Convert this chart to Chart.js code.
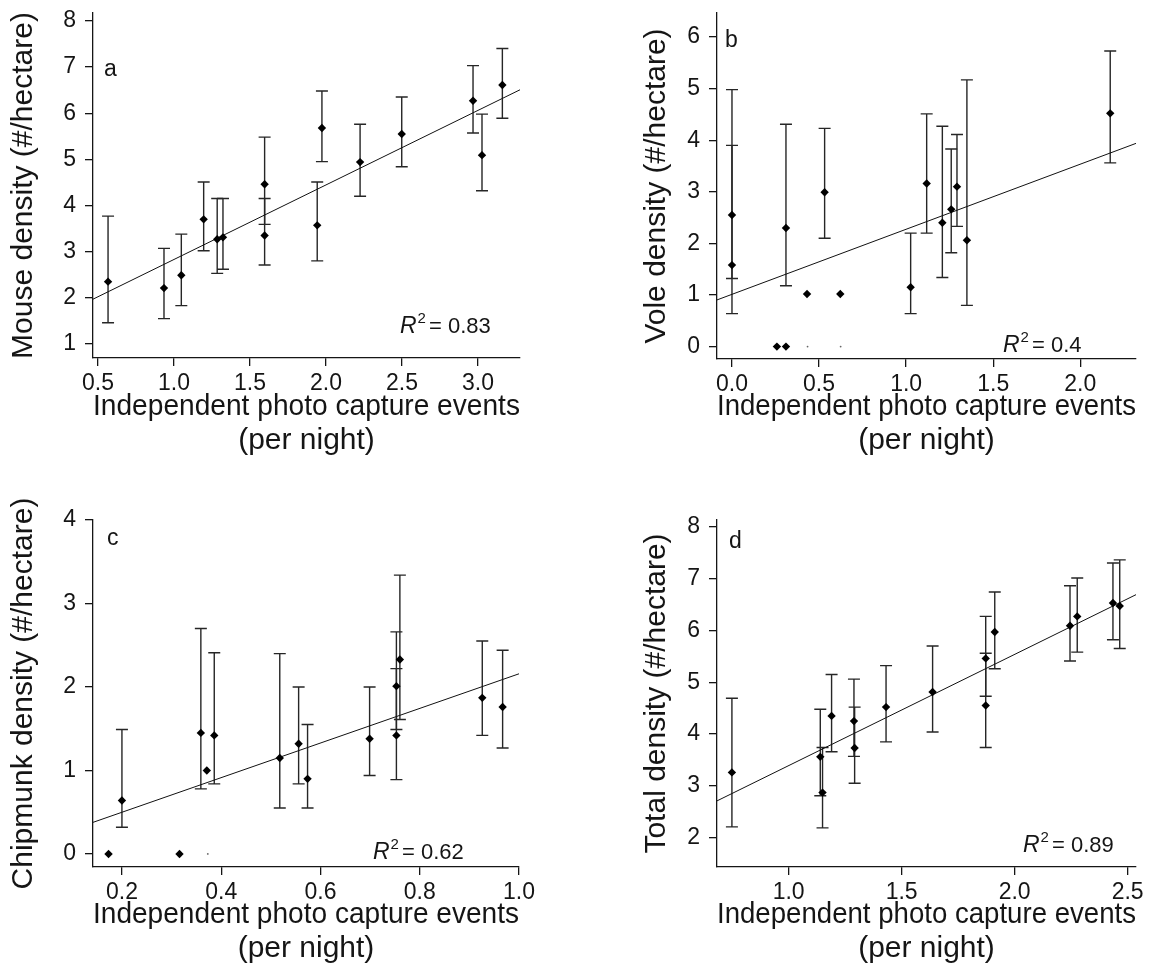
<!DOCTYPE html>
<html>
<head>
<meta charset="utf-8">
<title>Density vs photo capture events</title>
<script src="https://cdn.jsdelivr.net/npm/chart.js@4.4.1/dist/chart.umd.min.js"></script>
<style>
  body { margin: 0; background: #fff; }
  #wrap { position: relative; width: 1172px; height: 972px; }
  .panel { position: absolute; width: 586px; height: 486px; }
</style>
</head>
<body>
<div id="wrap">
  <div class="panel" style="left:0;top:0"><canvas id="chartA" width="586" height="486"></canvas></div>
  <div class="panel" style="left:586px;top:0"><canvas id="chartB" width="586" height="486"></canvas></div>
  <div class="panel" style="left:0;top:486px"><canvas id="chartC" width="586" height="486"></canvas></div>
  <div class="panel" style="left:586px;top:486px"><canvas id="chartD" width="586" height="486"></canvas></div>
</div>
<script>
// a - mouse
const mouseX  = [0.566, 0.934, 1.048, 1.195, 1.284, 1.322, 1.596, 1.596, 1.942, 1.973, 2.224, 2.498, 2.967, 3.026, 3.160];
const mouseY  = [2.35, 2.21, 2.49, 3.70, 3.27, 3.31, 4.46, 3.35, 3.57, 5.68, 4.94, 5.55, 6.27, 5.09, 6.61];
const mouseLo = [1.46, 1.55, 1.83, 3.02, 2.53, 2.62, 3.59, 2.71, 2.80, 4.95, 4.20, 4.84, 5.57, 4.32, 5.89];
const mouseHi = [3.77, 3.07, 3.38, 4.51, 4.15, 4.15, 5.48, 4.15, 4.51, 6.48, 5.76, 6.35, 7.03, 5.98, 7.40];
const mouseFit = [1.216, 1.615];   // intercept, slope
const mouseR2 = "0.83";
const mouseXTicks = [0.5, 1.0, 1.5, 2.0, 2.5, 3.0];
const mouseYTicks = [1, 2, 3, 4, 5, 6, 7, 8];
const mouseXLim = [0.467, 3.276];
const mouseYLim = [0.696, 8.17];

// b - vole
const voleX  = [0.0, 0.0, 0.258, 0.31, 0.31, 0.431, 0.532, 0.622, 1.026, 1.118, 1.208, 1.259, 1.292, 1.349, 2.172];
const voleY  = [2.55, 1.58, 0, 0, 2.30, 1.02, 2.99, 1.02, 1.15, 3.16, 2.40, 2.66, 3.10, 2.06, 4.52];
const voleLo = [1.32, 0.64, null, null, 1.18, null, 2.10, null, 0.64, 2.20, 1.34, 1.82, 2.33, 0.80, 3.56];
const voleHi = [4.98, 3.90, null, null, 4.31, null, 4.23, null, 2.20, 4.51, 4.27, 3.83, 4.11, 5.17, 5.73];
const voleTinyX = [0.434, 0.624];
const voleTinyY = [0, 0];
const voleFit = [1.013, 1.261];
const voleR2 = "0.4";
const voleXTicks = [0.0, 0.5, 1.0, 1.5, 2.0];
const voleYTicks = [0, 1, 2, 3, 4, 5, 6];
const voleXLim = [-0.086, 2.32];
const voleYLim = [-0.24, 6.465];

// c - chipmunk
const chipX  = [0.200, 0.173, 0.316, 0.359, 0.371, 0.386, 0.518, 0.556, 0.574, 0.699, 0.753, 0.753, 0.760, 0.926, 0.967];
const chipY  = [0.64, 0, 0, 1.45, 1.00, 1.42, 1.15, 1.32, 0.90, 1.38, 2.01, 1.42, 2.33, 1.87, 1.76];
const chipLo = [0.32, null, null, 0.78, null, 0.84, 0.55, 0.84, 0.55, 0.94, 1.49, 0.89, 1.61, 1.42, 1.27];
const chipHi = [1.49, null, null, 2.70, null, 2.41, 2.40, 2.00, 1.55, 2.00, 2.66, 2.22, 3.34, 2.55, 2.44];
const chipTinyX = [0.373];
const chipTinyY = [0];
const chipFit = [0.085, 2.073];
const chipR2 = "0.62";
const chipXTicks = [0.2, 0.4, 0.6, 0.8, 1.0];
const chipYTicks = [0, 1, 2, 3, 4];
const chipXLim = [0.1417, 1.0];
const chipYLim = [-0.156, 4.0];

// d - total
const totX  = [0.749, 1.140, 1.150, 1.190, 1.289, 1.292, 1.431, 1.637, 1.872, 1.872, 1.912, 2.245, 2.277, 2.435, 2.465];
const totY  = [3.26, 3.56, 2.87, 4.35, 4.25, 3.73, 4.52, 4.81, 5.46, 4.55, 5.97, 6.09, 6.27, 6.53, 6.47];
const totLo = [2.21, 2.81, 2.19, 3.66, 3.57, 3.05, 3.85, 4.04, 4.73, 3.74, 5.26, 5.41, 5.58, 5.82, 5.65];
const totHi = [4.69, 4.48, 3.74, 5.15, 5.06, 4.52, 5.32, 5.70, 6.27, 5.56, 6.74, 6.86, 7.01, 7.30, 7.36];
const totFit = [1.245, 2.146];
const totR2 = "0.89";
const totXTicks = [1.0, 1.5, 2.0, 2.5];
const totYTicks = [2, 3, 4, 5, 6, 7, 8];
const totXLim = [0.683, 2.537];
const totYLim = [1.435, 8.13];

const xTitle = ["Independent photo capture events", "(per night)"];
const FONT = "'Liberation Sans', Arial, sans-serif";
const INK = "#151515";

const panels = [
  { id: "chartA", letter: "a", yTitle: "Mouse density (#/hectare)",
    x: mouseX, y: mouseY, lo: mouseLo, hi: mouseHi, tinyX: [], tinyY: [], fit: mouseFit, r2: mouseR2,
    xTicks: mouseXTicks, yTicks: mouseYTicks, xLim: mouseXLim, yLim: mouseYLim,
    area: { left: 93, top: 13, right: 520, bottom: 358 }, letterAt: [104, 76], r2At: [400, 333], xPad: 28, yPad: 6 },
  { id: "chartB", letter: "b", yTitle: "Vole density (#/hectare)",
    x: voleX, y: voleY, lo: voleLo, hi: voleHi, tinyX: voleTinyX, tinyY: voleTinyY, fit: voleFit, r2: voleR2,
    xTicks: voleXTicks, yTicks: voleYTicks, xLim: voleXLim, yLim: voleYLim,
    area: { left: 131, top: 13, right: 550, bottom: 359 }, letterAt: [139, 47], r2At: [417, 352], xPad: 28, yPad: 53 },
  { id: "chartC", letter: "c", yTitle: "Chipmunk density (#/hectare)",
    x: chipX, y: chipY, lo: chipLo, hi: chipHi, tinyX: chipTinyX, tinyY: chipTinyY, fit: chipFit, r2: chipR2,
    xTicks: chipXTicks, yTicks: chipYTicks, xLim: chipXLim, yLim: chipYLim,
    area: { left: 93, top: 34, right: 519, bottom: 381 }, letterAt: [107, 59], r2At: [373, 373], xPad: 6, yPad: 6 },
  { id: "chartD", letter: "d", yTitle: "Total density (#/hectare)",
    x: totX, y: totY, lo: totLo, hi: totHi, tinyX: [], tinyY: [], fit: totFit, r2: totR2,
    xTicks: totXTicks, yTicks: totYTicks, xLim: totXLim, yLim: totYLim,
    area: { left: 131, top: 34, right: 550, bottom: 381 }, letterAt: [143, 62], r2At: [437, 366], xPad: 6, yPad: 53 },
];

// error bars + panel letter + R^2 label
function decor(p) {
  return {
    id: "decor_" + p.id,
    beforeDatasetsDraw(chart) {
      const ctx = chart.ctx, xs = chart.scales.x, ys = chart.scales.y;
      ctx.save();
      ctx.strokeStyle = "#262626";
      ctx.lineWidth = 1.4;
      p.lo.forEach((lo, i) => {
        if (lo === null) return;
        const px = xs.getPixelForValue(p.x[i]);
        const top = ys.getPixelForValue(p.hi[i]);
        const bot = ys.getPixelForValue(lo);
        ctx.beginPath();
        ctx.moveTo(px, top); ctx.lineTo(px, bot);
        ctx.moveTo(px - 6, top); ctx.lineTo(px + 6, top);
        ctx.moveTo(px - 6, bot); ctx.lineTo(px + 6, bot);
        ctx.stroke();
      });
      ctx.restore();
    },
    afterDraw(chart) {
      const ctx = chart.ctx;
      ctx.save();
      ctx.fillStyle = INK;
      ctx.textBaseline = "alphabetic";
      ctx.textAlign = "left";
      ctx.font = "23px " + FONT;
      ctx.fillText(p.letter, p.letterAt[0], p.letterAt[1]);

      let [x, y] = p.r2At;
      ctx.font = "italic 23px " + FONT;
      ctx.fillText("R", x, y);
      x += ctx.measureText("R").width + 1;
      ctx.font = "15px " + FONT;
      ctx.fillText("2", x, y - 10);
      x += ctx.measureText("2").width + 3;
      ctx.font = "22px " + FONT;
      ctx.fillText("= " + p.r2, x, y);
      ctx.restore();
    }
  };
}

panels.forEach((p) => {
  const a = p.area;
  const pts = p.x.map((v, i) => ({ x: v, y: p.y[i] }));
  const tiny = p.tinyX.map((v, i) => ({ x: v, y: p.tinyY[i] }));
  const line = p.xLim.map((v) => ({ x: v, y: p.fit[0] + p.fit[1] * v }));

  const axisCommon = {
    grid: { drawOnChartArea: false, drawTicks: true, tickLength: 8, color: INK, lineWidth: 1.3 },
    border: { display: true, color: INK, width: 1.3 },
  };

  new Chart(document.getElementById(p.id).getContext("2d"), {
    type: "scatter",
    data: {
      datasets: [
        { data: line, type: "line", borderColor: "#111", borderWidth: 1, pointRadius: 0, fill: false, order: 3 },
        { data: tiny, pointStyle: "circle", pointRadius: 0.9, backgroundColor: "#666", borderWidth: 0, order: 2 },
        { data: pts, pointStyle: "rectRot", pointRadius: 4.2, backgroundColor: "#000", borderColor: "#000", borderWidth: 0, order: 1 },
      ],
    },
    options: {
      responsive: false,
      animation: false,
      layout: { padding: { left: 0, top: a.top, right: 586 - a.right, bottom: 0 } },
      plugins: { legend: { display: false }, tooltip: { enabled: false } },
      scales: {
        x: {
          ...axisCommon,
          type: "linear",
          min: p.xLim[0],
          max: p.xLim[1],
          afterBuildTicks: (s) => { s.ticks = p.xTicks.map((v) => ({ value: v })); },
          afterFit: (s) => { s.height = 486 - a.bottom; s.paddingLeft = 0; s.paddingRight = 0; },
          ticks: { font: { family: FONT, size: 23 }, color: INK, padding: 4, maxRotation: 0,
                   callback: (v) => Number(v).toFixed(1) },
          title: { display: true, text: xTitle, color: INK, font: { family: FONT, size: 30, lineHeight: 1.15 },
                   padding: { top: 0, bottom: p.xPad } },
        },
        y: {
          ...axisCommon,
          type: "linear",
          min: p.yLim[0],
          max: p.yLim[1],
          afterBuildTicks: (s) => { s.ticks = p.yTicks.map((v) => ({ value: v })); },
          afterFit: (s) => { s.width = a.left; s.paddingTop = 0; s.paddingBottom = 0; },
          ticks: { font: { family: FONT, size: 23 }, color: INK, padding: 9,
                   callback: (v) => Number(v).toFixed(0) },
          title: { display: true, text: p.yTitle, color: INK, font: { family: FONT, size: 30, lineHeight: 1.15 },
                   padding: { top: p.yPad, bottom: 0 } },
        },
      },
    },
    plugins: [decor(p)],
  });
});
</script>
</body>
</html>
